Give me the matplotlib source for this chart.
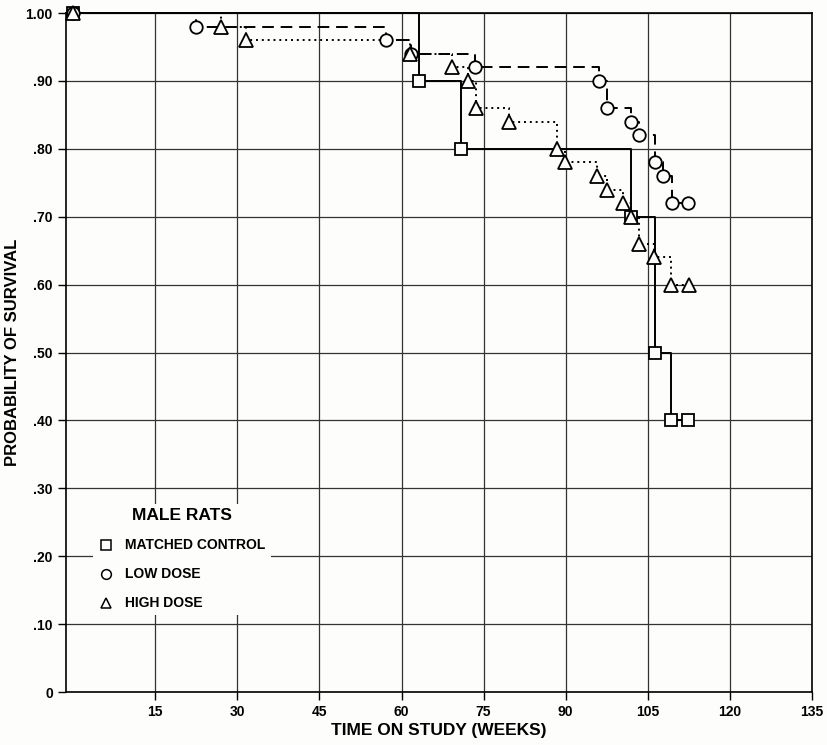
import matplotlib
matplotlib.use('Agg')
import matplotlib.pyplot as plt
from matplotlib.lines import Line2D

plt.rcParams['font.family'] = ['Liberation Sans', 'DejaVu Sans']

# survival curves (weeks, probability)
controlWeeks = [0, 63.2, 70.8, 102.0, 106.3, 109.2, 112.4]
controlSurv = [1.00, 0.90, 0.80, 0.70, 0.50, 0.40, 0.40]

lowWeeks = [0, 22.5, 57.1, 61.7, 73.5, 96.0, 97.5, 101.9, 103.3, 106.3, 107.8, 109.4, 112.4]
lowSurv = [1.00, 0.98, 0.96, 0.94, 0.92, 0.90, 0.86, 0.84, 0.82, 0.78, 0.76, 0.72, 0.72]

highWeeks = [0, 27.1, 31.5, 61.5, 69.2, 72.2, 73.6, 79.7, 88.4, 89.9, 95.8, 97.5,
	100.4, 102.0, 103.4, 106.2, 109.2, 112.6]
highSurv = [1.00, 0.98, 0.96, 0.94, 0.92, 0.90, 0.86, 0.84, 0.80, 0.78, 0.76, 0.74,
	0.72, 0.70, 0.66, 0.64, 0.60, 0.60]

xTicks = [15, 30, 45, 60, 75, 90, 105, 120, 135]
yTicks = [0, 0.1, 0.2, 0.3, 0.4, 0.5, 0.6, 0.7, 0.8, 0.9, 1.0]
yTickLabels = ['0', '.10', '.20', '.30', '.40', '.50', '.60', '.70', '.80', '.90', '1.00']

series = [
	('MATCHED CONTROL', controlWeeks, controlSurv, 's', '-'),
	('LOW DOSE', lowWeeks, lowSurv, 'o', (0, (6, 3.5))),
	('HIGH DOSE', highWeeks, highSurv, '^', (0, (1, 2))),
]

bg = '#fdfdfb'
fig = plt.figure(figsize=(8.28, 7.45), dpi=100, facecolor=bg)
ax = fig.add_axes([0.0797, 0.0711, 0.901, 0.9114], facecolor=bg)

for name, t, s, mk, ls in series:
	ax.plot(t, s, drawstyle='steps-post', color='black', linestyle=ls, lw=1.4,
		clip_on=False, zorder=3)
	ax.plot(t, s, linestyle='none', marker=mk, markersize=10 if mk == '^' else 9,
		markerfacecolor=bg, markeredgecolor='black', markeredgewidth=1.3,
		clip_on=False, zorder=4)

ax.set_xlim(-1.3, 135)
ax.set_ylim(0, 1.0)
ax.set_xticks(xTicks)
ax.set_yticks(yTicks)
ax.set_yticklabels(yTickLabels)
ax.grid(True, color='#333333', lw=0.9)
ax.set_axisbelow(True)
for sp in ax.spines.values():
	sp.set_linewidth(1.2)
ax.tick_params(direction='out', length=6, width=1, labelsize=10)
for lab in ax.get_xticklabels() + ax.get_yticklabels():
	lab.set_fontweight('bold')

ax.set_xlabel('TIME ON STUDY (WEEKS)', fontsize=12.5, fontweight='bold', labelpad=3)
ax.set_ylabel('PROBABILITY OF SURVIVAL', fontsize=12, fontweight='bold', labelpad=4)

handles = [Line2D([], [], linestyle='none', marker=mk, markersize=7,
	markerfacecolor='white', markeredgecolor='black', markeredgewidth=1.1)
	for name, t, s, mk, ls in series]
leg = ax.legend(handles, [x[0] for x in series], title='MALE RATS',
	loc='lower left', bbox_to_anchor=(0.036, 0.113), borderaxespad=0,
	frameon=True, fancybox=False, framealpha=1, facecolor=bg, edgecolor='none',
	prop={'size': 10, 'weight': 'bold'}, labelspacing=1.08, handletextpad=0.8,
	handlelength=1.2, borderpad=0.35,
	title_fontproperties={'size': 12.5, 'weight': 'bold'})
leg.set_zorder(5)

fig.savefig('out.png', dpi=100, facecolor=bg)
